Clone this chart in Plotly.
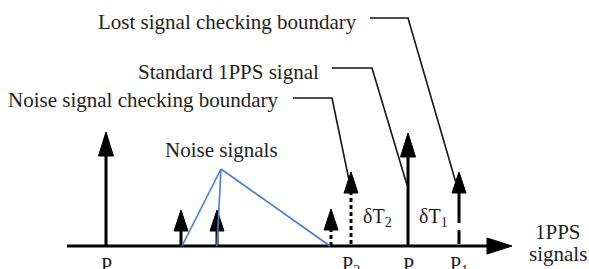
import plotly.graph_objects as go

# ---- data (diagram coordinates: x to the right, y downward, in canvas units) ----
signal_names = ["P", "noise1", "noise2", "noise3", "P2", "P", "P1"]
signal_x = [106, 181, 217, 331, 351, 408, 459]
signal_top = [132, 210, 210, 209, 172, 133, 172]
signal_kind = ["solid", "solid", "solid", "dashed", "dashed", "solid", "long"]

axis_y = 246
axis_start = 67
axis_end = 512

noise_apex = (221, 169)
noise_feet = [182, 217, 330]

tick_labels = ["P", "P<sub>2</sub>", "P", "P<sub>1</sub>"]
tick_x = [106, 351, 408, 459]

leader_text = ["Lost signal checking boundary", "Standard 1PPS signal",
               "Noise signal checking boundary"]
leader_text_right = [359, 321, 281]
leader_text_y = [22, 72, 100]
leader_paths = [
    [(370, 18), (408, 18), (456, 183)],
    [(332, 68), (372, 68), (407, 185)],
    [(293, 98), (332, 98), (349, 180)],
]

delta_labels = ["δT<sub>2</sub>", "δT<sub>1</sub>"]
delta_x = [377, 433]
delta_y = 217

FONT = "Liberation Serif"
TXT = "#1e1e1e"
FS = 21

W, H = 589, 269

fig = go.Figure()

# time axis
fig.add_trace(go.Scatter(x=[axis_start, axis_end - 22], y=[axis_y, axis_y], mode="lines",
                         line=dict(color="black", width=3), hoverinfo="skip"))
fig.add_trace(go.Scatter(x=[axis_end - 25, axis_end, axis_end - 25, axis_end - 25],
                         y=[axis_y - 8, axis_y, axis_y + 8, axis_y - 8],
                         mode="lines", fill="toself", fillcolor="black",
                         line=dict(color="black", width=1), hoverinfo="skip"))

# signal arrows
for name, sx, top, kind in zip(signal_names, signal_x, signal_top, signal_kind):
    big = top < 150
    head_h = 24 if big else 21
    head_w = 7.5 if big else 7
    base = top + head_h
    if kind == "solid":
        dash = "solid"
    elif kind == "dashed":
        dash = "4px,3px"
    else:
        dash = "32px,7px,14px,7px"
    fig.add_trace(go.Scatter(x=[sx, sx], y=[base - 2, axis_y], mode="lines",
                             line=dict(color="black", width=3, dash=dash), hoverinfo="skip"))
    fig.add_trace(go.Scatter(x=[sx - head_w, sx, sx + head_w, sx - head_w],
                             y=[base, top, base, base], mode="lines", fill="toself",
                             fillcolor="black", line=dict(color="black", width=1),
                             hoverinfo="skip"))

# noise signal lines (blue)
for fx in noise_feet:
    fig.add_trace(go.Scatter(x=[fx, noise_apex[0]], y=[axis_y, noise_apex[1]], mode="lines",
                             line=dict(color="#4a7ccc", width=1.6), hoverinfo="skip"))

# leader lines
for path in leader_paths:
    fig.add_trace(go.Scatter(x=[p[0] for p in path], y=[p[1] for p in path], mode="lines",
                             line=dict(color="#151515", width=1.6), hoverinfo="skip"))

annotations = []
for t, xr, yy in zip(leader_text, leader_text_right, leader_text_y):
    annotations.append(dict(x=xr, y=yy, text=t, xanchor="right", yanchor="middle",
                            showarrow=False, font=dict(family=FONT, size=FS, color=TXT)))
annotations.append(dict(x=noise_apex[0], y=150, text="Noise signals", xanchor="center",
                        yanchor="middle", showarrow=False,
                        font=dict(family=FONT, size=FS, color=TXT)))
for t, xx in zip(delta_labels, delta_x):
    annotations.append(dict(x=xx, y=delta_y, text=t, xanchor="center", yanchor="middle",
                            showarrow=False, font=dict(family=FONT, size=20, color=TXT)))
for t, xx in zip(tick_labels, tick_x):
    annotations.append(dict(x=xx, y=265, text=t, xanchor="center", yanchor="middle",
                            showarrow=False, font=dict(family=FONT, size=20, color=TXT)))
annotations.append(dict(x=558, y=232, text="1PPS", xanchor="center", yanchor="middle",
                        showarrow=False, font=dict(family=FONT, size=FS, color=TXT)))
annotations.append(dict(x=558, y=254, text="signals", xanchor="center", yanchor="middle",
                        showarrow=False, font=dict(family=FONT, size=FS, color=TXT)))

fig.update_layout(
    width=W, height=H,
    margin=dict(l=0, r=0, t=0, b=0),
    paper_bgcolor="white", plot_bgcolor="white",
    showlegend=False,
    xaxis=dict(range=[0, W], visible=False, fixedrange=True),
    yaxis=dict(range=[H, 0], visible=False, fixedrange=True),
    annotations=annotations,
)

fig.write_html(
    "out.html",
    config={"displayModeBar": False},
    post_script="document.body.style.margin='0';document.body.style.overflow='hidden';",
)
